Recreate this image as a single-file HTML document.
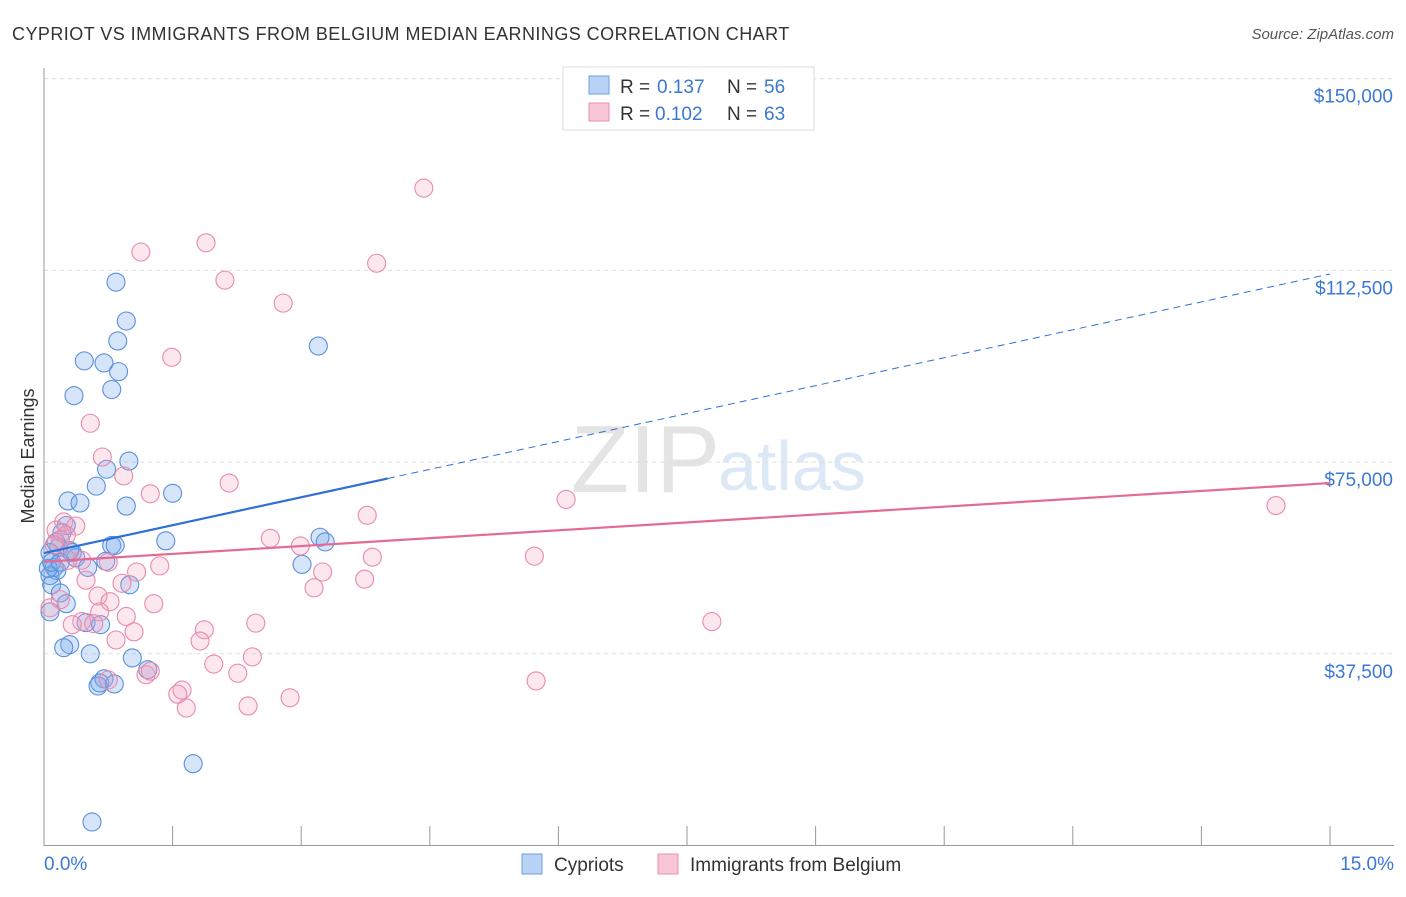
<!DOCTYPE html>
<html><head><meta charset="utf-8"><style>
body{margin:0;background:#fff;font-family:"Liberation Sans",sans-serif;}
svg text{font-family:"Liberation Sans",sans-serif;}
</style></head><body>
<svg id="c" width="1406" height="892" xmlns="http://www.w3.org/2000/svg">
<text x="12" y="40" font-size="18" fill="#333" letter-spacing="0.45">CYPRIOT VS IMMIGRANTS FROM BELGIUM MEDIAN EARNINGS CORRELATION CHART</text>
<text x="1394" y="39" font-size="15" fill="#555" text-anchor="end" font-style="italic">Source: ZipAtlas.com</text>
<text x="720" y="492" font-size="96" fill="#e4e4e4" text-anchor="end" font-family="Liberation Serif">ZIP</text>
<text x="718" y="490" font-size="70" fill="#dde8f6">atlas</text>
<text transform="translate(34,456) rotate(-90)" font-size="18" fill="#333" text-anchor="middle">Median Earnings</text>
<g id="grid"></g><g id="pts"></g><g id="trend"></g>
<g>
<rect x="563" y="67" width="251" height="63" fill="#fff" stroke="#ddd"/>
<rect x="589" y="76" width="20" height="18" fill="#b9d3f7" stroke="#6d9ee6"/>
<text x="620" y="93" font-size="19" fill="#333">R =</text>
<text x="657" y="93" font-size="19" fill="#3b78d6">0.137</text>
<text x="727" y="93" font-size="19" fill="#333">N =</text>
<text x="764" y="93" font-size="19" fill="#3b78d6">56</text>
<rect x="589" y="103" width="20" height="18" fill="#f8c6d6" stroke="#e890ae"/>
<text x="620" y="120" font-size="19" fill="#333">R =</text>
<text x="655" y="120" font-size="19" fill="#3b78d6">0.102</text>
<text x="727" y="120" font-size="19" fill="#333">N =</text>
<text x="764" y="120" font-size="19" fill="#3b78d6">63</text>
</g>
<g>
<rect x="522" y="854" width="20" height="20" fill="#b9d3f7" stroke="#6d9ee6"/>
<text x="554" y="871" font-size="19" fill="#333">Cypriots</text>
<rect x="658" y="854" width="20" height="20" fill="#f8c6d6" stroke="#e890ae"/>
<text x="690" y="871" font-size="19" fill="#333">Immigrants from Belgium</text>
</g>
</svg>
<script>
const yTicks=[37500,75000,112500,150000];
const yTickLabels=["$37,500","$75,000","$112,500","$150,000"];
const xTickLabels=["0.0%","15.0%"];
const bluePct=[0.84,0.96,0.86,0.47,0.70,0.87,0.35,0.79,3.20,0.99,0.73,0.61,0.28,0.42,0.96,1.50,0.26,0.21,0.79,0.83,1.42,0.17,0.33,3.22,3.28,0.07,0.37,0.51,0.72,3.01,0.12,0.15,0.07,1.00,0.09,0.19,0.26,0.49,0.66,0.30,0.23,0.54,1.03,1.21,0.70,0.65,0.82,0.63,1.74,0.56,0.07,0.05,0.09,0.14,0.30,0.19];
const blueVal=[110200,102600,98700,94800,94400,92700,88000,89200,97700,75200,73600,70300,67400,67000,66400,68900,62600,61200,58700,58700,59600,58300,57300,60300,59400,57300,56300,54400,55600,55000,54400,53800,52800,51000,51000,49400,47300,43600,43200,39300,38700,37500,36700,34400,32600,31800,31600,31200,16000,4600,45700,54200,55400,59300,57700,55400];
const pinkPct=[4.43,1.89,1.13,2.11,3.88,2.79,1.49,0.54,0.68,0.93,2.16,1.24,6.09,14.37,3.77,0.23,0.37,0.14,0.26,0.19,2.64,2.99,3.83,5.72,0.44,0.75,1.35,1.08,3.25,0.49,0.91,3.74,3.15,0.63,1.28,0.77,0.65,0.96,0.44,0.58,2.47,1.87,1.05,0.84,1.82,2.43,1.98,2.26,1.19,1.24,1.61,1.56,0.75,5.74,7.79,1.66,2.38,2.87,0.07,0.19,0.33,0.12,0.28];
const pinkVal=[128600,117900,116100,110600,113900,106100,95500,82600,76000,72300,70900,68800,67700,66500,64600,63300,62500,61700,60700,59800,60100,58600,56400,56600,55800,55400,54700,53500,53500,51900,51300,52100,50400,48800,47300,47700,45700,44800,43800,43400,43500,42200,41800,40200,40000,36900,35500,33700,33400,34100,30400,29600,32400,32200,43800,26900,27300,28900,46500,48100,43200,58800,55800];
const blueTrend=[57200,111800], pinkTrend=[55500,70900];
const NS="http://www.w3.org/2000/svg";
const X=p=>44+p/15*1286, Y=v=>845.5-v*191.7/37500;
function mk(t,a,parent){const e=document.createElementNS(NS,t);for(const k in a)e.setAttribute(k,a[k]);document.getElementById(parent).appendChild(e);return e;}
yTicks.forEach((v,i)=>{
 let l=mk('line',{x1:44,x2:1394,y1:Y(v),y2:Y(v),stroke:'#ddd','stroke-dasharray':'4,4'},'grid');
 
 
 let t=mk('text',{x:1393,y:Y(v)+24,'font-size':19,fill:'#3b78d6','text-anchor':'end'},'grid');t.textContent=yTickLabels[i];
 
 
});
let ax=mk('line',{x1:44,x2:44,y1:68,y2:846,stroke:'#999'},'grid');


let bx=mk('line',{x1:44,x2:1394,y1:845.5,y2:845.5,stroke:'#999'},'grid');


for(let i=0;i<=10;i++){let t=mk('line',{x1:X(i*1.5),x2:X(i*1.5),y1:826,y2:846,stroke:'#999'},'grid');
 
 }
[[0,'start',44],[15,'end',1394]].forEach((d,i)=>{let t=mk('text',{x:d[2],y:870,'font-size':19,fill:'#3b78d6','text-anchor':d[1]},'grid');t.textContent=xTickLabels[i];
 
 });
bluePct.forEach((p,i)=>{let c=mk('circle',{cx:X(p),cy:Y(blueVal[i]),r:9,fill:'rgba(120,170,235,0.3)',stroke:'#5a8fdc','stroke-width':1.1},'pts');
 
 });
pinkPct.forEach((p,i)=>{let c=mk('circle',{cx:X(p),cy:Y(pinkVal[i]),r:9,fill:'rgba(244,160,190,0.25)',stroke:'#e88aab','stroke-width':1.1},'pts');
 
 });
const bv=p=>blueTrend[0]+(blueTrend[1]-blueTrend[0])*p/15;
let l1=mk('line',{x1:X(0),y1:Y(bv(0)),x2:X(4.01),y2:Y(bv(4.01)),stroke:'#2f6fd6','stroke-width':2.2},'trend');


let l2=mk('line',{x1:X(4.01),y1:Y(bv(4.01)),x2:X(15),y2:Y(bv(15)),stroke:'#2f6fd6','stroke-width':1,'stroke-dasharray':'7,5'},'trend');


let l3=mk('line',{x1:X(0),y1:Y(pinkTrend[0]),x2:X(15),y2:Y(pinkTrend[1]),stroke:'#e46a95','stroke-width':2.2},'trend');


</script>
</body></html>
